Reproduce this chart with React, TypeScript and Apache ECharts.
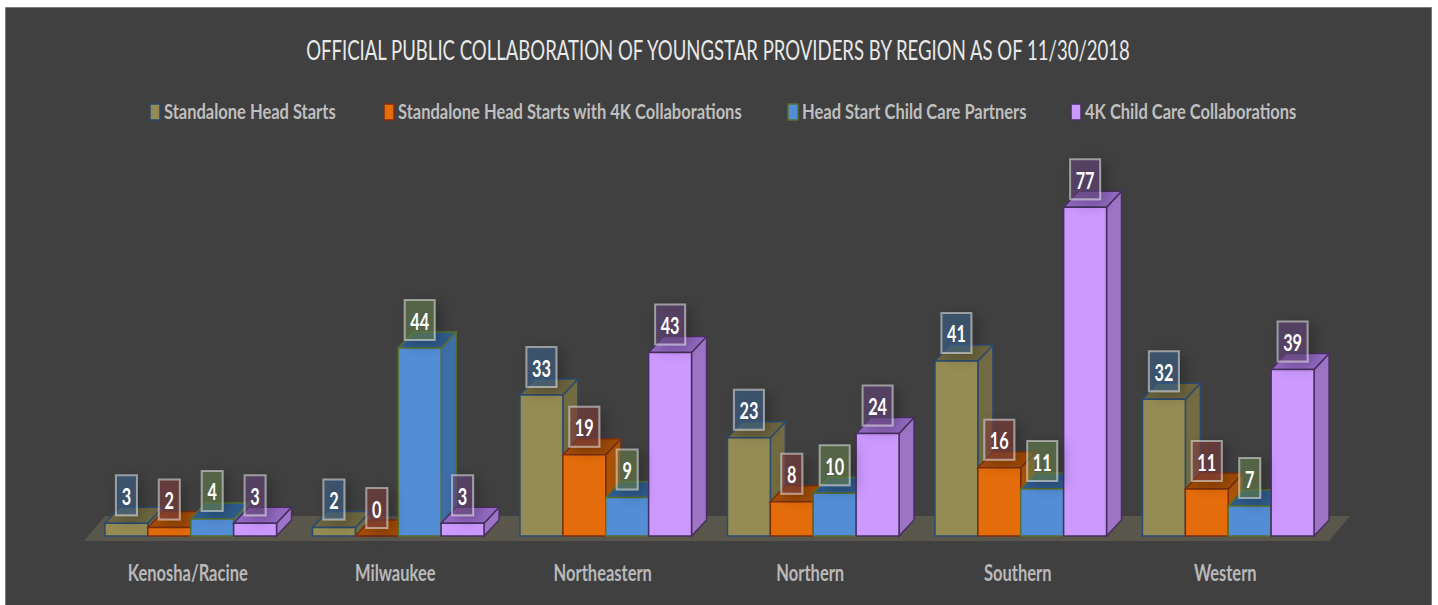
import React, { useEffect, useRef } from "react";
import * as echarts from "echarts";

const titleText = "OFFICIAL PUBLIC COLLABORATION OF YOUNGSTAR PROVIDERS BY REGION AS OF 11/30/2018";
const regions = ["Kenosha/Racine", "Milwaukee", "Northeastern", "Northern", "Southern", "Western"];
const seriesNames = [
  "Standalone Head Starts",
  "Standalone Head Starts with 4K Collaborations",
  "Head Start Child Care Partners",
  "4K Child Care Collaborations",
];
const standaloneHeadStarts = [3, 2, 33, 23, 41, 32];
const standaloneWith4K = [2, 0, 19, 8, 16, 11];
const childCarePartners = [4, 44, 9, 10, 11, 7];
const childCare4K = [3, 3, 43, 24, 77, 39];
const seriesValues = [standaloneHeadStarts, standaloneWith4K, childCarePartners, childCare4K];

const frontColors = ["#958B54", "#E46C0A", "#538DD5", "#CC99FF"];
const strokeColors = ["#2B4A70", "#7A2E12", "#56702F", "#47305F"];
const topColors = ["#6E6740", "#A24C06", "#2F5C8F", "#9469C4"];
const sideColors = ["#736C42", "#AD5408", "#3E6EA8", "#9E74C6"];
const labelFills = [
  "rgba(60,95,135,0.6)",
  "rgba(125,60,60,0.6)",
  "rgba(100,125,75,0.6)",
  "rgba(100,70,120,0.6)",
];
const legendMarkerLefts = [150, 384, 788, 1071];
const FONT = "Lato";

function makeBarRenderer(seriesIndex: number) {
  return (_params: any, api: any) => {
    const cat = api.value(0);
    const value = api.value(1);
    const top = api.coord([cat, value]);
    const base = api.coord([cat, 0]);
    const band = api.size([1, 0])[0];
    const barW = band * 0.2067;
    const depthX = 15;
    const depthY = 16;
    const x0 = top[0] + 3 + (seriesIndex - 2) * barW;
    const x1 = x0 + barW;
    const yt = top[1];
    const yb = base[1];
    const digits = String(value).length;
    const boxW = digits > 1 ? 30 : 21;
    const boxH = 40;
    const cx = (x0 + x1) / 2;
    const boxBottom = yt - 8;
    const stroke = strokeColors[seriesIndex];
    return {
      type: "group",
      children: [
        {
          type: "polygon",
          shape: { points: [[x1, yt], [x1 + depthX, yt - depthY], [x1 + depthX, yb - depthY], [x1, yb]] },
          style: { fill: sideColors[seriesIndex], stroke, lineWidth: 1.5 },
        },
        {
          type: "polygon",
          shape: { points: [[x0, yt], [x0 + depthX, yt - depthY], [x1 + depthX, yt - depthY], [x1, yt]] },
          style: { fill: topColors[seriesIndex], stroke, lineWidth: 1.5 },
        },
        {
          type: "rect",
          shape: { x: x0, y: yt, width: barW, height: yb - yt },
          style: { fill: frontColors[seriesIndex], stroke, lineWidth: 1.5 },
        },
        {
          type: "rect",
          z2: 100,
          shape: { x: cx - boxW / 2, y: boxBottom - boxH, width: boxW, height: boxH },
          style: {
            fill: labelFills[seriesIndex],
            stroke: "rgba(225,225,225,0.55)",
            lineWidth: 2,
            shadowBlur: 14,
            shadowColor: "rgba(0,0,0,0.4)",
            shadowOffsetX: 5,
            shadowOffsetY: 4,
          },
        },
        {
          type: "text",
          z2: 101,
          x: cx,
          y: boxBottom - boxH / 2 + 1,
          scaleX: 0.74,
          style: {
            text: String(value),
            fill: "#ffffff",
            fontFamily: FONT,
            fontWeight: "bold",
            fontSize: 22,
            align: "center",
            verticalAlign: "middle",
          },
        },
      ],
    };
  };
}

function renderFloor(params: any) {
  const { x, y, width, height } = params.coordSys;
  const front = y + height + 5;
  const back = y + height - 20;
  return {
    type: "polygon",
    shape: {
      points: [[x, front], [x + width, front], [x + width + 21, back], [x + 21, back]],
    },
    style: { fill: "#59564C" },
  };
}

function renderRegionLabel(params: any, api: any) {
  const i = api.value(0);
  const { y, height } = params.coordSys;
  return {
    type: "text",
    x: api.coord([i, 0])[0],
    y: y + height + 37,
    scaleX: 0.75,
    style: {
      text: regions[i],
      fill: "#b9b9b9",
      fontFamily: FONT,
      fontWeight: "bold",
      fontSize: 22,
      align: "center",
      verticalAlign: "middle",
    },
  };
}

export default function App() {
  const ref = useRef<HTMLDivElement>(null);
  useEffect(() => {
    const chart = echarts.init(ref.current!, undefined, { renderer: "svg" });
    const legendGraphics = seriesNames.map((name, i) => ({
      type: "group",
      x: legendMarkerLefts[i],
      y: 112,
      silent: true,
      children: [
        {
          type: "rect",
          shape: { x: 0, y: -8, width: 10, height: 16 },
          style: { fill: frontColors[i], stroke: strokeColors[i], lineWidth: 1.5 },
        },
        {
          type: "text",
          x: 14,
          y: -1,
          scaleX: 0.786,
          style: {
            text: name,
            fill: "#bfbfbf",
            fontFamily: FONT,
            fontWeight: "bold",
            fontSize: 21,
            align: "left",
            verticalAlign: "middle",
          },
        },
      ],
    }));
    chart.setOption({
      animation: false,
      backgroundColor: "#ffffff",
      graphic: [
        {
          type: "rect",
          z: -10,
          silent: true,
          shape: { x: 5.5, y: 7.5, width: 1426, height: 620 },
          style: { fill: "#404040", stroke: "#7a7a7a", lineWidth: 1 },
        },
        {
          type: "text",
          x: 718,
          y: 50,
          scaleX: 0.714,
          silent: true,
          style: {
            text: titleText,
            fill: "#e8e8e8",
            fontFamily: FONT,
            fontWeight: "normal",
            fontSize: 26,
            align: "center",
            verticalAlign: "middle",
          },
        },
        ...legendGraphics,
      ],
      grid: { left: 84, width: 1245, top: 194.4, height: 341.6 },
      xAxis: {
        type: "category",
        data: regions,
        axisLine: { show: false },
        axisTick: { show: false },
        axisLabel: { show: false },
      },
      yAxis: { type: "value", min: 0, max: 80, show: false },
      series: [
        {
          type: "custom",
          name: "floor",
          silent: true,
          renderItem: renderFloor,
          data: [[0, 0]],
          z: 1,
        },
        {
          type: "custom",
          name: "regions",
          silent: true,
          renderItem: renderRegionLabel,
          encode: { x: 0, y: 1 },
          data: regions.map((_r, c) => [c, 0]),
          z: 1,
        },
        ...seriesNames.map((name, i) => ({
          type: "custom",
          name,
          renderItem: makeBarRenderer(i),
          encode: { x: 0, y: 1 },
          data: seriesValues[i].map((v, c) => [c, v]),
          z: 2,
        })),
      ],
    });
    return () => chart.dispose();
  }, []);
  return (
    <div
      ref={ref}
      style={{ position: "absolute", left: 0, top: 0, width: 1438, height: 605 }}
    />
  );
}
